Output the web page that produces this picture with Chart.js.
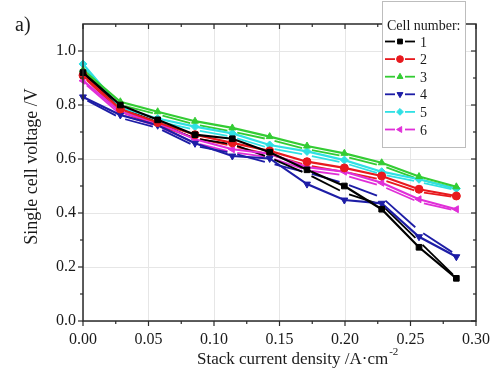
<!DOCTYPE html>
<html>
<head>
<meta charset="utf-8">
<script src="https://cdn.jsdelivr.net/npm/chart.js@4.4.1/dist/chart.umd.min.js"></script>
<style>
  html, body { margin: 0; padding: 0; background: #fff; }
</style>
</head>
<body>
<canvas id="graphique" width="499" height="373"></canvas>
<script>
// --- données ---
const densite = [0, 0.0285, 0.057, 0.0855, 0.114, 0.1425, 0.171, 0.1995, 0.228, 0.2565, 0.285];
const cellules = ['1', '2', '3', '4', '5', '6'];

// courbe principale (trait plein + symboles)
const cell1 = [0.92, 0.80, 0.745, 0.69, 0.675, 0.625, 0.56, 0.50, 0.414, 0.273, 0.158];
const cell2 = [0.91, 0.785, 0.735, 0.69, 0.66, 0.63, 0.59, 0.567, 0.537, 0.488, 0.463];
const cell3 = [0.93, 0.812, 0.775, 0.74, 0.715, 0.683, 0.648, 0.621, 0.586, 0.535, 0.497];
const cell4 = [0.83, 0.763, 0.725, 0.658, 0.611, 0.602, 0.507, 0.448, 0.436, 0.312, 0.238];
const cell5 = [0.952, 0.79, 0.75, 0.72, 0.695, 0.652, 0.628, 0.596, 0.553, 0.525, 0.49];
const cell6 = [0.89, 0.775, 0.733, 0.673, 0.636, 0.62, 0.57, 0.553, 0.512, 0.451, 0.414];

// deuxième mesure (trait interrompu)
const cell1b = [0.915, 0.79, 0.735, 0.675, 0.655, 0.605, 0.545, 0.475, 0.43, 0.295, 0.16];
const cell2b = [0.905, 0.775, 0.725, 0.678, 0.648, 0.617, 0.577, 0.552, 0.524, 0.478, 0.458];
const cell3b = [0.925, 0.80, 0.765, 0.728, 0.702, 0.672, 0.636, 0.61, 0.575, 0.525, 0.49];
const cell4b = [0.825, 0.752, 0.715, 0.648, 0.622, 0.585, 0.55, 0.51, 0.458, 0.335, 0.245];
const cell5b = [0.945, 0.78, 0.74, 0.708, 0.682, 0.64, 0.615, 0.585, 0.543, 0.515, 0.484];
const cell6b = [0.885, 0.765, 0.722, 0.66, 0.625, 0.606, 0.558, 0.54, 0.5, 0.44, 0.408];

const xTicks = [0, 0.05, 0.10, 0.15, 0.20, 0.25, 0.30];
const xMinor = [0.025, 0.075, 0.125, 0.175, 0.225, 0.275];
const yTicks = [0.0, 0.2, 0.4, 0.6, 0.8, 1.0];
const yMinor = [0.1, 0.3, 0.5, 0.7, 0.9];

const couleurs = ['#000000', '#e8191e', '#33cc33', '#1d1da6', '#2fe0e4', '#e02fd8'];
const symboles = ['rect', 'circle', 'triangle', 'triangle', 'rectRot', 'triangle'];
const rotations = [0, 0, 0, 180, 0, -90];

const serif = '"Liberation Serif", "Times New Roman", serif';

const principales = [cell1, cell2, cell3, cell4, cell5, cell6];
const secondes = [cell1b, cell2b, cell3b, cell4b, cell5b, cell6b];

// longueur d'un segment en pixels (pour laisser un blanc autour des points)
function longueur(c) {
    return Math.hypot(c.p1.x - c.p0.x, c.p1.y - c.p0.y);
}

const datasets = [];
principales.forEach((serie, i) => {
    datasets.push({
        label: cellules[i],
        data: serie.map((v, k) => ({ x: densite[k], y: v })),
        borderColor: couleurs[i],
        backgroundColor: couleurs[i],
        borderWidth: 2.2,
        pointStyle: symboles[i],
        pointRotation: rotations[i],
        pointRadius: 4,
        pointBorderWidth: 1,
        clip: 8,
        order: 1
    });
});
secondes.forEach((serie, i) => {
    datasets.push({
        label: cellules[i] + 'b',
        data: serie.map((v, k) => ({ x: densite[k], y: v })),
        borderColor: couleurs[i],
        borderWidth: 1.8,
        pointRadius: 0,
        clip: 8,
        order: 2,
        segment: {
            borderDash: c => { const l = longueur(c); const g = Math.min(5, l / 4); return [l - 2 * g, 2 * g]; },
            borderDashOffset: c => { const l = longueur(c); const g = Math.min(5, l / 4); return l - g; }
        }
    });
});

// --- cadre, graduations, titres et légende ---
const habillage = {
    id: 'habillage',
    afterDraw(chart) {
        const { ctx, chartArea: a, scales: { x, y } } = chart;
        ctx.save();
        const trait = (x1, y1, x2, y2) => { ctx.beginPath(); ctx.moveTo(x1, y1); ctx.lineTo(x2, y2); ctx.stroke(); };

        ctx.strokeStyle = '#2a2a2a';
        ctx.lineWidth = 1.5;
        ctx.strokeRect(a.left, a.top, a.right - a.left, a.bottom - a.top);

        ctx.lineWidth = 1.2;
        xTicks.forEach(v => { const p = x.getPixelForValue(v); trait(p, a.bottom, p, a.bottom + 5); trait(p, a.top, p, a.top + 5); });
        xMinor.forEach(v => { const p = x.getPixelForValue(v); trait(p, a.bottom, p, a.bottom + 3); trait(p, a.top, p, a.top + 3); });
        yTicks.forEach(v => { const p = y.getPixelForValue(v); trait(a.left - 5, p, a.left, p); trait(a.right - 5, p, a.right, p); });
        yMinor.forEach(v => { const p = y.getPixelForValue(v); trait(a.left - 3, p, a.left, p); trait(a.right - 3, p, a.right, p); });

        // titres des axes
        ctx.fillStyle = '#1a1a1a';
        ctx.font = '17px ' + serif;
        ctx.textBaseline = 'alphabetic';
        ctx.textAlign = 'left';
        const titreX = 'Stack current density /A\u00b7cm';
        const largeur = ctx.measureText(titreX).width;
        const x0 = 197;
        ctx.fillText(titreX, x0, 364);
        ctx.font = '11px ' + serif;
        ctx.fillText('-2', x0 + largeur + 1, 355);

        ctx.save();
        ctx.font = '18px ' + serif;
        ctx.translate(37, (a.top + a.bottom) / 2 - 6);
        ctx.rotate(-Math.PI / 2);
        ctx.textAlign = 'center';
        ctx.fillText('Single cell voltage /V', 0, 0);
        ctx.restore();

        ctx.font = '20px ' + serif;
        ctx.fillText('a)', 15, 31);

        // légende
        ctx.fillStyle = '#ffffff';
        ctx.fillRect(382, 1, 83, 146);
        ctx.strokeStyle = '#bdbdbd';
        ctx.lineWidth = 1;
        ctx.strokeRect(382.5, 1.5, 83, 146);
        ctx.fillStyle = '#1a1a1a';
        ctx.font = '14px ' + serif;
        ctx.fillText('Cell number:', 387, 30);
        cellules.forEach((nom, i) => {
            const yy = 41.5 + i * 17.6;
            ctx.strokeStyle = couleurs[i];
            ctx.fillStyle = couleurs[i];
            ctx.lineWidth = 1.8;
            trait(385, yy, 395, yy);
            trait(405, yy, 415, yy);
            ctx.lineWidth = 1;
            Chart.helpers.drawPoint(ctx, { pointStyle: symboles[i], rotation: rotations[i], radius: 3.4, borderWidth: 1 }, 400, yy);
            ctx.fillStyle = '#1a1a1a';
            ctx.font = '14px ' + serif;
            ctx.fillText(nom, 420, yy + 5);
        });
        ctx.restore();
    }
};

new Chart(document.getElementById('graphique'), {
    type: 'line',
    data: { datasets: datasets },
    plugins: [habillage],
    options: {
        responsive: false,
        animation: false,
        events: [],
        layout: { padding: { top: 24, right: 17, bottom: 0, left: 0 } },
        plugins: { legend: { display: false }, tooltip: { enabled: false } },
        scales: {
            x: {
                type: 'linear',
                min: 0,
                max: 0.30,
                afterBuildTicks: s => { s.ticks = xTicks.map(v => ({ value: v })); },
                afterFit: s => { s.height = 52; },
                ticks: {
                    callback: v => v.toFixed(2),
                    font: { family: serif, size: 16 },
                    color: '#1a1a1a',
                    padding: 9,
                    maxRotation: 0,
                    autoSkip: false
                },
                grid: { color: '#e6e6e6', drawTicks: false },
                border: { display: false }
            },
            y: {
                min: 0,
                max: 1.1,
                afterBuildTicks: s => { s.ticks = yTicks.map(v => ({ value: v })); },
                afterFit: s => { s.width = 83; },
                ticks: {
                    callback: v => v.toFixed(1),
                    font: { family: serif, size: 16 },
                    color: '#1a1a1a',
                    padding: 7
                },
                grid: { color: '#e6e6e6', drawTicks: false },
                border: { display: false }
            }
        }
    }
});
</script>
</body>
</html>
